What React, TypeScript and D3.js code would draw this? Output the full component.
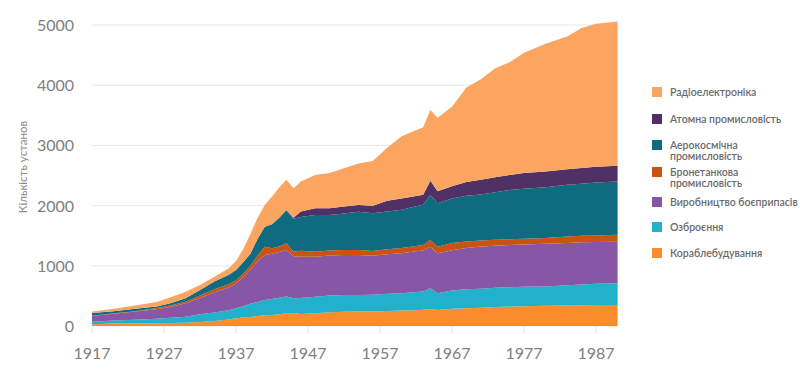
import React from "react";
import * as d3 from "d3";

const years = [1917, 1920, 1923, 1926, 1928, 1930, 1932, 1934, 1936, 1937, 1938, 1939, 1940, 1941, 1942, 1943, 1944, 1945, 1946, 1948, 1950, 1952, 1954, 1956, 1958, 1960, 1962, 1963, 1964, 1965, 1967, 1969, 1971, 1973, 1975, 1977, 1980, 1983, 1985, 1987, 1990];

const shipbuilding = [30, 40, 42, 44, 48, 55, 68, 85, 110, 128, 140, 150, 165, 180, 183, 195, 210, 215, 200, 210, 230, 238, 240, 242, 250, 256, 263, 268, 282, 266, 285, 296, 305, 315, 322, 328, 335, 340, 344, 347, 350];
const armament = [40, 50, 63, 78, 87, 100, 127, 140, 150, 166, 190, 220, 235, 252, 267, 275, 280, 245, 265, 275, 275, 277, 275, 278, 285, 289, 300, 307, 344, 279, 305, 316, 315, 320, 323, 322, 320, 335, 346, 353, 360];
const ammunition = [95, 115, 135, 158, 185, 222, 270, 335, 380, 410, 480, 560, 680, 747, 750, 760, 772, 700, 685, 665, 665, 664, 665, 645, 655, 665, 677, 680, 692, 665, 670, 683, 700, 700, 700, 705, 710, 705, 700, 695, 690];
const armor = [5, 5, 5, 20, 25, 27, 40, 50, 55, 55, 60, 70, 90, 139, 90, 90, 112, 74, 100, 84, 85, 83, 82, 82, 85, 85, 90, 90, 111, 108, 120, 110, 100, 97, 95, 93, 95, 105, 108, 110, 115];
const aerospace = [45, 35, 40, 25, 35, 56, 95, 130, 155, 170, 190, 200, 280, 332, 400, 480, 553, 546, 560, 610, 589, 608, 637, 625, 625, 635, 660, 670, 747, 722, 740, 760, 765, 788, 820, 832, 845, 860, 867, 880, 885];
const nuclear = [0, 0, 0, 0, 0, 0, 0, 0, 0, 0, 0, 0, 0, 0, 0, 0, 0, 20, 90, 111, 111, 115, 111, 125, 180, 190, 170, 165, 238, 200, 200, 225, 245, 250, 250, 260, 260, 260, 260, 260, 260];
const electronics = [25, 40, 55, 75, 100, 110, 80, 80, 110, 150, 220, 330, 350, 360, 460, 500, 503, 490, 500, 555, 585, 635, 690, 743, 880, 1030, 1090, 1120, 1174, 1220, 1320, 1570, 1670, 1810, 1870, 2000, 2125, 2205, 2325, 2375, 2400];

const seriesKeys = ["ship", "arms", "ammo", "armor", "aero", "nuclear", "radio"];
const seriesNames = ["Кораблебудування", "Озброєння", "Виробництво боєприпасів", "Бронетанкова промисловість", "Аерокосмічна промисловість", "Атомна промисловість", "Радіоелектроніка"];
const seriesColors = ["#F98D2D", "#22B1CA", "#8757A6", "#C9530F", "#0F6B7F", "#4F3166", "#FBA560"];
const seriesValues = [shipbuilding, armament, ammunition, armor, aerospace, nuclear, electronics];

const yTicks = [0, 1000, 2000, 3000, 4000, 5000];
const xTicks = [1917, 1927, 1937, 1947, 1957, 1967, 1977, 1987];
const yTitle = "Кількість установ";

const legendItems = [
  { key: "radio", lines: ["Радіоелектроніка"] },
  { key: "nuclear", lines: ["Атомна промисловість"] },
  { key: "aero", lines: ["Аерокосмічна", "промисловість"] },
  { key: "armor", lines: ["Бронетанкова", "промисловість"] },
  { key: "ammo", lines: ["Виробництво боєприпасів"] },
  { key: "arms", lines: ["Озброєння"] },
  { key: "ship", lines: ["Кораблебудування"] },
];
const legendY = [92, 119, 145, 172, 202, 227, 253];

export default function App() {
  const W = 800, H = 377;
  const x = d3.scaleLinear().domain([1917, 1990]).range([92, 617.6]);
  const y = d3.scaleLinear().domain([0, 5000]).range([326, 25]);

  const table = years.map((yr, i) => {
    const row: any = { year: yr };
    seriesKeys.forEach((k, j) => (row[k] = seriesValues[j][i]));
    return row;
  });
  const stacked = d3.stack().keys(seriesKeys)(table as any);
  const area = d3
    .area<any>()
    .x((d) => x(d.data.year))
    .y0((d) => y(d[0]))
    .y1((d) => y(d[1]))
    .curve(d3.curveLinear);

  const font = "Lato, 'Open Sans', sans-serif";
  const colorOf = (k: string) => seriesColors[seriesKeys.indexOf(k)];

  return (
    <div style={{ position: "fixed", left: 0, top: 0, width: W, height: H, background: "#fff" }}>
      <svg width={W} height={H} style={{ display: "block" }}>
        {yTicks.map((t) => (
          <line key={"g" + t} x1={92} x2={617} y1={y(t)} y2={y(t)} stroke="#e8e8e8" strokeWidth={1} />
        ))}
        {stacked.map((s, i) => (
          <path key={s.key} d={area(s as any) || ""} fill={seriesColors[i]} />
        ))}
        {xTicks.map((t) => (
          <line key={"xt" + t} x1={x(t)} x2={x(t)} y1={327} y2={333} stroke="#e0e0e0" strokeWidth={1} />
        ))}
        {yTicks.map((t) => (
          <text key={"yl" + t} x={74} y={y(t) + 6} textAnchor="end" fontFamily={font} fontSize={16} fill="#808080">
            {t}
          </text>
        ))}
        {xTicks.map((t) => (
          <text key={"xl" + t} x={x(t)} y={359} textAnchor="middle" fontFamily={font} fontSize={16} fill="#808080">
            {t}
          </text>
        ))}
        <text
          transform={`translate(27,167) rotate(-90)`}
          textAnchor="middle"
          fontFamily={font}
          fontSize={11.5}
          fill="#8a8a8a"
        >
          {yTitle}
        </text>
        {legendItems.map((it, i) => (
          <g key={it.key}>
            <rect x={652} y={legendY[i] - 5} width={10} height={10} fill={colorOf(it.key)} />
            {it.lines.map((ln, j) => (
              <text
                key={j}
                x={670}
                y={legendY[i] + 3.5 + j * 11.5}
                fontFamily={font}
                fontSize={10.5}
                fontWeight={600}
                fill="#6a6a6a"
              >
                {ln}
              </text>
            ))}
          </g>
        ))}
      </svg>
    </div>
  );
}
